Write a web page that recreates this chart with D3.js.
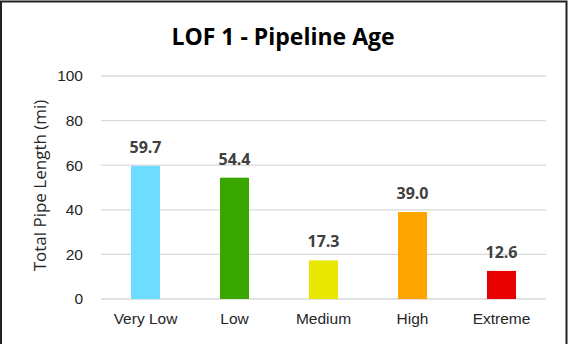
<!DOCTYPE html>
<html>
<head>
<meta charset="utf-8">
<script src="https://cdn.jsdelivr.net/npm/d3@7"></script>
<style>
  body { margin: 0; background: #fff; }
  svg { display: block; font-family: "Open Sans", "Liberation Sans", sans-serif; }
</style>
</head>
<body>
<div id="chart"></div>
<script>
// Chart data
const categories = ["Very Low", "Low", "Medium", "High", "Extreme"];
const lengths = [59.7, 54.4, 17.3, 39.0, 12.6];
const barColors = ["#6ddcff", "#3aa600", "#e6e600", "#ffa500", "#e60000"];
const yTicks = [0, 20, 40, 60, 80, 100];

const W = 572, H = 344;
const margin = {top: 76, right: 26, bottom: 45, left: 101},
    width = W - margin.left - margin.right,
    height = H - margin.top - margin.bottom;

const svg = d3.select("#chart").append("svg")
    .attr("width", W)
    .attr("height", H);

// Outer frame
svg.append("rect")
    .attr("x", 1).attr("y", 1.5)
    .attr("width", 565.5).attr("height", H + 10)
    .attr("fill", "none")
    .attr("stroke", "#222")
    .attr("stroke-width", 2);

const g = svg.append("g")
    .attr("transform", "translate(" + margin.left + "," + margin.top + ")");

const x = d3.scaleBand()
    .domain(categories)
    .range([0, width])
    .paddingInner(0.674)
    .paddingOuter(0.337);

const y = d3.scaleLinear()
    .domain([0, 100])
    .range([height, 0]);

// Gridlines
g.append("g")
    .selectAll("line")
    .data(yTicks)
  .enter().append("line")
    .attr("x1", 0)
    .attr("x2", width)
    .attr("y1", d => y(d))
    .attr("y2", d => y(d))
    .attr("stroke", "#d9d9d9")
    .attr("stroke-width", 1.3);

// Y axis
const yAxis = g.append("g")
    .call(d3.axisLeft(y).tickValues(yTicks).tickSize(0).tickPadding(18));
yAxis.select(".domain").remove();
yAxis.selectAll("text")
    .style("font-size", "15.5px")
    .attr("fill", "#262626");

// X axis
const xAxis = g.append("g")
    .attr("transform", "translate(0," + height + ")")
    .call(d3.axisBottom(x).tickSize(0).tickPadding(14));
xAxis.select(".domain").remove();
xAxis.selectAll("text")
    .style("font-size", "15.5px")
    .attr("fill", "#262626");

// Bars
g.selectAll(".bar")
    .data(lengths)
  .enter().append("rect")
    .attr("class", "bar")
    .attr("x", (d, i) => x(categories[i]))
    .attr("y", d => y(d))
    .attr("width", x.bandwidth())
    .attr("height", d => height - y(d))
    .attr("fill", (d, i) => barColors[i]);

// Value labels
g.selectAll(".val")
    .data(lengths)
  .enter().append("text")
    .attr("class", "val")
    .attr("x", (d, i) => x(categories[i]) + x.bandwidth() / 2)
    .attr("y", d => y(d) - 13)
    .attr("text-anchor", "middle")
    .style("font-size", "16px")
    .style("font-weight", "bold")
    .attr("fill", "#404040")
    .text(d => d.toFixed(1));

// Title
svg.append("text")
    .attr("x", 283)
    .attr("y", 45)
    .attr("text-anchor", "middle")
    .style("font-size", "23px")
    .style("font-weight", "bold")
    .attr("fill", "#000")
    .text("LOF 1 - Pipeline Age");

// Y axis label
svg.append("text")
    .attr("transform", "translate(46," + (margin.top + height / 2 - 2) + ") rotate(-90)")
    .attr("text-anchor", "middle")
    .style("font-size", "17px")
    .attr("fill", "#262626")
    .text("Total Pipe Length (mi)");
</script>
</body>
</html>
